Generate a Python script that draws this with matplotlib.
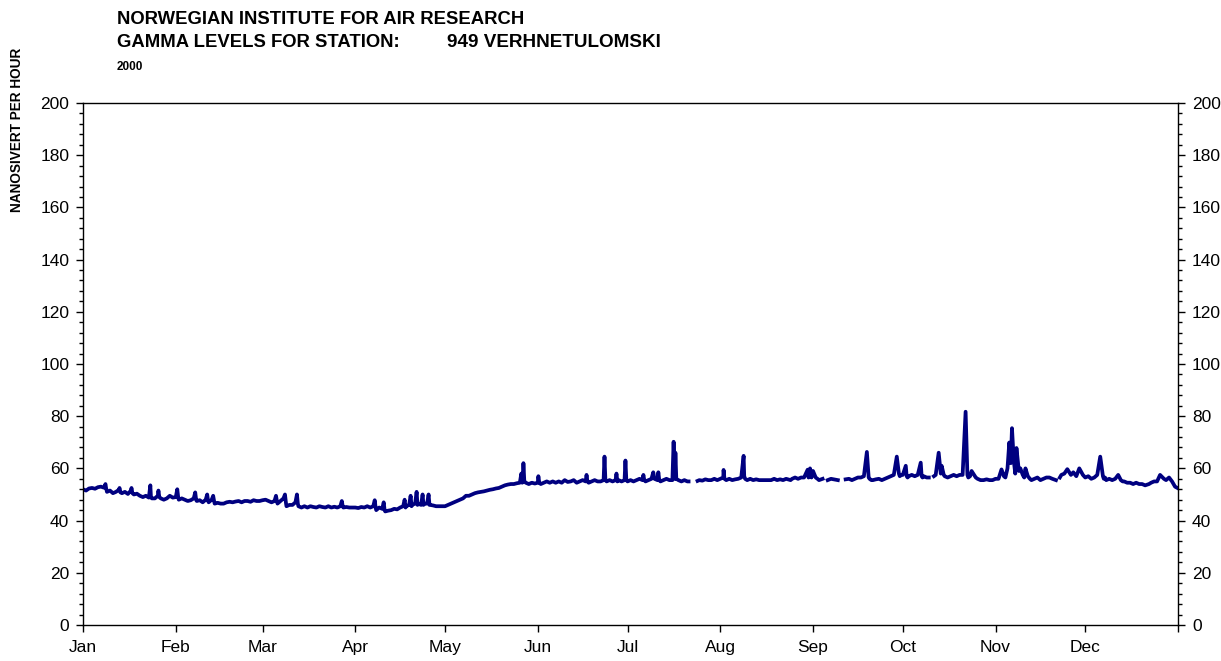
import matplotlib
matplotlib.use("Agg")
import matplotlib.pyplot as plt
import numpy as np

plt.rcParams['font.family'] = ['Liberation Sans', 'DejaVu Sans']

# day of year 2000 (0 = 1 Jan) and gamma dose rate, nSv/h
day = [
    0, 1, 2, 3, 4, 5, 6, 7, 7.5, 7.7, 8, 9, 10, 11, 12, 12.2, 12.5, 13, 14, 15,
    16, 16.2, 16.5, 17, 18, 19, 20, 21, 22, 22.5, 22.7, 23, 24, 25, 25.2, 25.5,
    26, 27, 28, 29, 30,
    31, 31.5, 31.8, 32, 33, 34, 35, 36, 37, 37.5, 37.8, 38, 39, 40, 41, 41.5,
    41.8, 42, 43, 43.5, 43.8, 44, 45, 46, 47, 48, 49, 50, 51, 52, 53, 54, 55,
    56, 57, 58, 59,
    60, 61, 62, 63, 64, 64.5, 64.8, 65, 66, 67, 67.5, 67.8, 68, 69, 70, 71,
    71.5, 71.8, 72, 73, 74, 75, 76, 77, 78, 79, 80, 81, 82, 83, 84, 85, 86,
    86.5, 86.8, 87, 88, 89, 90,
    91, 92, 93, 94, 95, 96, 97, 97.5, 97.8, 98, 99, 100, 100.5, 100.8, 101,
    102, 103, 104, 105, 106, 107, 107.5, 107.8, 108, 109, 109.5, 109.8, 110,
    111, 111.5, 111.8, 112, 113, 113.5, 113.8, 114, 115, 115.5, 115.8, 116,
    117, 118, 119, 120,
    121, 122, 123, 124, 125, 126, 127, 128, 129, 130, 131, 132, 133, 134, 135,
    136, 137, 138, 139, 140, 141, 142, 143, 144, 145, 146, 146.5, 146.8, 147,
    147.2, 147.5, 148, 149, 150, 151,
    152, 152.2, 152.5, 153, 154, 155, 156, 157, 158, 159, 160, 161, 162, 163,
    164, 165, 166, 167, 168, 168.3, 168.6, 169, 170, 171, 172, 173, 174,
    174.3, 174.6, 175, 176, 177, 178, 178.3, 178.6, 179, 180, 181, 181.3,
    181.6, 182, 183, 184, 185, 186, 187, 187.3, 187.6, 188, 189, 190, 190.6,
    191, 192, 192.3, 192.6, 193, 194, 195, 196, 197, 197.4, 197.8, 198, 198.3,
    199, 200, 201, 202, 202.4,
    205.4, 206, 207, 208, 209, 210, 211, 212, 213, 214, 214.1, 214.4, 215, 216,
    217, 218, 219, 220, 220.8, 221, 221.3, 222, 223, 224, 225, 226, 227.5,
    229.2, 230, 231, 232, 233, 234, 235, 236.5, 237, 238, 239, 240, 241, 242.2,
    242.5, 243, 243.5, 244, 244.9, 245.5, 246, 247.2,
    248.9, 250, 251, 252.3,
    254.9, 256, 257, 258, 259, 260, 261, 262, 262.6, 262.9, 263.5, 264, 265,
    266, 267, 268, 269, 270, 271, 272, 272.7, 273, 273.5, 274, 275, 275.3,
    275.6, 276, 277, 278, 279, 280, 280.3, 280.6, 281, 282, 282.7,
    284.4, 285, 286, 286.7, 287, 287.7, 288, 289, 290, 291, 292, 293, 294,
    295, 295.6, 295.9, 296.5, 297, 298.4, 299, 300, 301, 302, 303, 304, 305,
    306, 307, 307.8, 308.3, 309, 309.6, 310.1, 310.5, 311.1, 311.6, 312, 312.8,
    313.3, 314.1, 314.6, 315, 315.8, 316.5, 317, 318, 319, 320, 321, 322, 323,
    324, 325.2,
    326.5, 327, 328, 329, 330.2, 331, 332, 333, 334.2, 335, 336, 337, 338, 339,
    340, 340.9, 341.2, 341.6, 342, 343, 344, 345, 346, 346.9, 347.5, 348, 349,
    350, 351, 352, 353, 354, 355, 356.3, 357, 358, 359, 360, 361.3, 362, 363,
    364, 365, 365.8,
]
nsv = [
    52.0, 51.5, 52.3, 52.5, 52.2, 52.8, 53.0, 52.6, 54.0, 52.5, 51.0, 51.5,
    50.5, 51.0, 51.8, 52.5, 50.8, 50.5, 51.0, 50.2, 51.5, 52.5, 50.5, 50.0,
    50.3, 49.5, 49.0, 49.5, 48.8, 53.5, 49.0, 48.5, 48.5, 49.5, 51.5, 49.0,
    48.5, 48.0, 48.5, 49.5, 48.8,
    49.0, 52.0, 49.0, 48.0, 48.5, 48.0, 47.5, 47.8, 48.5, 50.8, 48.0, 47.5,
    47.8, 47.0, 48.0, 50.0, 47.5, 47.0, 48.0, 49.5, 47.5, 46.5, 46.8, 46.5,
    46.5, 47.0, 47.2, 47.0, 47.3, 47.5, 47.0, 47.5, 47.5, 47.2, 47.8, 47.5,
    47.5,
    47.8, 48.0, 47.5, 47.0, 47.5, 49.5, 47.5, 46.5, 47.5, 48.5, 50.0, 47.0,
    45.5, 46.0, 46.0, 47.0, 50.0, 46.5, 45.5, 45.0, 45.5, 45.0, 45.5, 45.2,
    45.0, 45.5, 45.2, 45.0, 45.5, 45.0, 45.3, 45.0, 45.5, 47.5, 45.5, 45.0,
    45.2, 45.0, 45.0,
    45.0, 44.8, 45.2, 45.0, 45.5, 45.0, 45.5, 47.8, 45.0, 44.0, 45.0, 44.5,
    47.0, 44.0, 43.5, 43.8, 44.0, 44.5, 44.3, 45.0, 45.5, 48.0, 45.0, 45.5,
    46.0, 49.5, 45.5, 46.0, 46.5, 51.0, 46.0, 46.5, 46.0, 50.0, 46.0, 46.5,
    46.5, 50.0, 46.0, 46.0, 45.8, 45.5, 45.5, 45.5,
    45.5, 46.0, 46.5, 47.0, 47.5, 48.0, 48.5, 49.5, 49.5, 50.0, 50.5, 50.8,
    51.0, 51.2, 51.5, 51.8, 52.0, 52.3, 52.5, 53.0, 53.5, 53.8, 54.0, 54.0,
    54.3, 54.5, 58.0, 54.5, 55.0, 62.0, 55.0, 54.5, 54.0, 54.5, 54.2,
    54.5, 57.0, 54.5, 54.0, 54.5, 55.0, 54.5, 55.0, 54.5, 55.0, 54.5, 55.5,
    54.8, 55.0, 55.5, 54.5, 55.0, 55.5, 55.0, 57.5, 55.0, 54.5, 55.0, 55.5,
    55.0, 55.0, 55.5, 64.5, 55.5, 55.0, 55.5, 55.0, 55.5, 58.0, 55.0, 55.5,
    55.0, 55.5, 63.0, 55.5, 55.0, 55.5, 55.0, 55.5, 56.0, 55.5, 57.5, 55.5,
    55.0, 55.5, 56.0, 58.5, 56.0, 55.5, 58.5, 55.5, 55.0, 55.5, 56.0, 55.5,
    55.5, 70.2, 56.0, 66.0, 56.0, 55.5, 55.0, 55.5, 55.0, 55.0,
    55.2, 55.5, 55.3, 55.8, 55.5, 55.5, 56.0, 55.5, 56.0, 56.5, 59.4, 56.0,
    55.5, 56.0, 55.5, 55.8, 56.0, 56.5, 64.8, 57.0, 56.0, 55.5, 56.0, 55.5,
    55.8, 55.5, 55.5,
    55.5, 55.5, 56.0, 55.5, 55.8, 55.5, 56.0, 55.5, 56.0, 56.5, 56.0, 56.5,
    56.5, 59.5, 56.5, 60.0, 56.5, 59.0, 56.5, 56.0, 55.5,
    56.0, 55.5, 56.0, 55.8,
    55.5, 55.8, 56.0, 55.5, 56.0, 56.5, 56.5, 57.0, 66.3, 56.5, 56.0, 55.5,
    55.5, 55.8, 56.0, 55.5, 56.0, 56.5, 57.0, 57.5, 64.5, 58.0, 57.0, 57.5,
    57.5, 61.0, 57.0, 56.5, 57.0, 57.5, 57.0, 57.5, 62.2, 57.0, 56.5, 57.0,
    56.5,
    56.5, 57.0, 57.5, 66.0, 58.0, 61.0, 57.5, 57.0, 56.5, 57.0, 57.5, 57.0,
    57.5, 57.5, 81.7, 57.5, 56.5, 57.0, 59.0, 56.5, 56.0, 55.5, 55.5, 55.8,
    55.5, 55.5, 56.0, 56.0, 59.6, 57.0, 56.5, 60.0, 69.9, 62.0, 75.4, 63.0,
    58.0, 67.8, 59.0, 60.0, 57.5, 56.5, 60.0, 57.0, 56.0, 55.5, 56.0, 56.5,
    55.5, 56.0, 56.5, 56.5, 56.0,
    55.5, 56.5, 57.5, 58.0, 59.7, 57.5, 58.5, 57.0, 60.0, 57.5, 56.5, 57.0,
    56.0, 56.5, 57.5, 64.5, 57.0, 56.0, 56.5, 55.5, 56.0, 55.5, 56.0, 57.5,
    55.5, 55.0, 55.0, 54.5, 54.5, 54.0, 54.5, 54.0, 54.0, 53.5, 54.0, 54.5,
    55.0, 55.0, 57.5, 56.0, 55.5, 56.5, 55.0, 53.0, 52.5,
]

# last day before each gap in the record
gap_after = [202.4, 247.2, 252.3, 282.7, 325.2]

month_start = [0, 31, 60, 91, 121, 152, 182, 213, 244, 274, 305, 335, 366]
month_label = ['Jan', 'Feb', 'Mar', 'Apr', 'May', 'Jun', 'Jul', 'Aug', 'Sep',
               'Oct', 'Nov', 'Dec', '']

x = list(day)
y = list(nsv)
for g in sorted(gap_after, reverse=True):
    i = x.index(g) + 1
    x.insert(i, g + 0.5)
    y.insert(i, np.nan)

fig = plt.figure(figsize=(12.21, 6.61), dpi=100)
ax = fig.add_axes([0.068, 0.0545, 0.8968, 0.7897])

ax.plot(x, y, color='#000080', linewidth=2.7, solid_joinstyle='round')

ax.set_xlim(0, 366)
ax.set_ylim(0, 200)
ax.set_xticks(month_start)
ax.set_xticklabels(month_label)
ax.set_yticks(np.arange(0, 201, 20))
ax.set_yticks(np.arange(0, 201, 4), minor=True)

ax.tick_params(axis='both', which='major', direction='out', length=5,
               width=1, labelsize=12.5, colors='black')
ax.tick_params(axis='y', which='minor', direction='out', length=3, width=1)
ax.tick_params(axis='y', which='both', left=True, right=True,
               labelleft=True, labelright=True, pad=5)
ax.tick_params(axis='x', pad=6)
for s in ax.spines.values():
    s.set_linewidth(1)
    s.set_color('black')

fig.text(0.0958, 0.971, 'NORWEGIAN INSTITUTE FOR AIR RESEARCH',
         fontsize=13.3, fontweight='bold', va='center')
fig.text(0.0958, 0.936, 'GAMMA LEVELS FOR STATION:',
         fontsize=13.3, fontweight='bold', va='center')
fig.text(0.366, 0.936, '949 VERHNETULOMSKI',
         fontsize=13.6, fontweight='bold', va='center')
fig.text(0.0958, 0.899, '2000', fontsize=8.5, fontweight='bold', va='center')
fig.text(0.014, 0.803, 'NANOSIVERT PER HOUR', fontsize=9.8,
         fontweight='bold', rotation=90, va='center', ha='center')

fig.savefig('out.png', dpi=100)
